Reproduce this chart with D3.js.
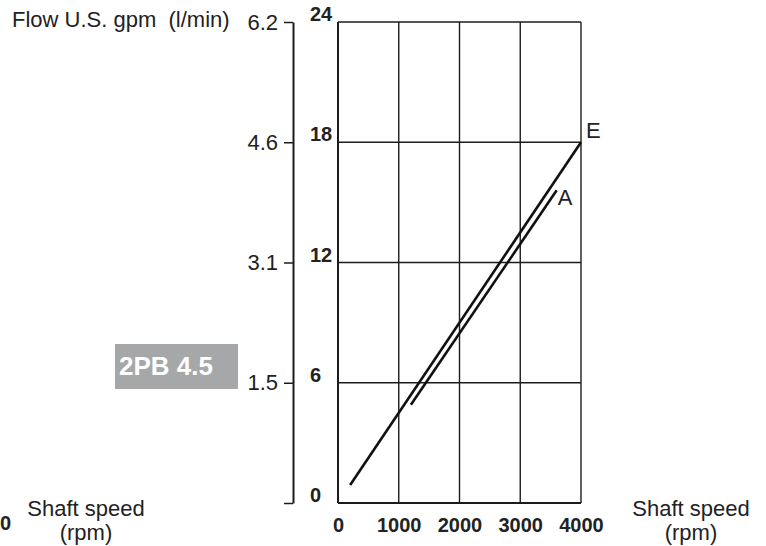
<!DOCTYPE html>
<html>
<head>
<meta charset="utf-8">
<script src="https://cdn.jsdelivr.net/npm/d3@7"></script>
<style>
  body { margin: 0; background: #fff; }
  svg { display: block; }
  text { font-family: "Liberation Sans", Arial, sans-serif; fill: #222; }
</style>
</head>
<body>
<svg width="766" height="546"></svg>
<script>
// chart values
const rpmTicks = [0, 1000, 2000, 3000, 4000];
const lpmTicks = [0, 6, 12, 18, 24];
const gpmLabels = ['', '1.5', '3.1', '4.6', '6.2'];
const curveE = [[200, 0.9], [4000, 18]];
const curveA = [[1200, 4.9], [3600, 15.6]];
const curveNames = ['E', 'A'];

const svg = d3.select('svg');
const ink = '#1c1c1c';

// plot box 338..581 x 22..503
const x = d3.scaleLinear().domain([0, 4000]).range([338, 581]);
const y = d3.scaleLinear().domain([0, 24]).range([503, 22]);

// grid
const grid = svg.append('g');
grid.selectAll('line.v')
  .data(rpmTicks)
  .enter()
  .append('line')
  .attr('x1', (d) => x(d))
  .attr('x2', (d) => x(d))
  .attr('y1', y(0))
  .attr('y2', y(24))
  .attr('stroke', ink)
  .attr('stroke-width', (d) => (d == 0 ? 2 : 1.4));
grid.selectAll('line.h')
  .data(lpmTicks)
  .enter()
  .append('line')
  .attr('x1', x(0))
  .attr('x2', x(4000))
  .attr('y1', (d) => y(d))
  .attr('y2', (d) => y(d))
  .attr('stroke', ink)
  .attr('stroke-width', (d) => (d == 0 ? 2 : 1.4));

// l/min labels beside the box
svg.append('g')
  .selectAll('text')
  .data(lpmTicks)
  .enter()
  .append('text')
  .attr('x', 310)
  .attr('y', (d) => y(d) - 1)
  .style('font-size', '20px')
  .style('font-weight', 'bold')
  .text((d) => d);

// gpm axis on the left
const gpmAxis = svg.append('g')
  .attr('transform', 'translate(293,0)')
  .call(
    d3.axisLeft(y)
      .tickValues(lpmTicks)
      .tickFormat((d, i) => gpmLabels[i])
      .tickSize(9)
      .tickSizeOuter(0)
      .tickPadding(6)
  );
gpmAxis.select('.domain').attr('stroke', ink).attr('stroke-width', 2);
gpmAxis.selectAll('.tick line').attr('stroke', ink).attr('stroke-width', 1.5);
gpmAxis.selectAll('.tick text')
  .style('font-size', '22px')
  .style('font-family', '"Liberation Sans", Arial, sans-serif')
  .attr('fill', ink);

// rpm axis labels
const rpmAxis = svg.append('g')
  .attr('transform', 'translate(0,503)')
  .call(
    d3.axisBottom(x)
      .tickValues(rpmTicks)
      .tickFormat(d3.format('d'))
      .tickSize(0)
      .tickPadding(15)
  );
rpmAxis.select('.domain').remove();
rpmAxis.selectAll('.tick text')
  .style('font-size', '20px')
  .style('font-weight', 'bold')
  .style('font-family', '"Liberation Sans", Arial, sans-serif')
  .attr('fill', ink);

// curves
const line = d3.line()
  .x((d) => x(d[0]))
  .y((d) => y(d[1]));
[curveE, curveA].forEach((c, i) => {
  svg.append('path')
    .attr('d', line(c))
    .attr('fill', 'none')
    .attr('stroke', '#111')
    .attr('stroke-width', 2.6);
  const end = c[c.length - 1];
  svg.append('text')
    .attr('x', x(end[0]) + (i == 0 ? 5 : 1))
    .attr('y', y(end[1]) + (i == 0 ? -4 : 15))
    .style('font-size', '22px')
    .text(curveNames[i]);
});

// titles
svg.append('text')
  .attr('x', 12)
  .attr('y', 27)
  .style('font-size', '22px')
  .attr('xml:space', 'preserve')
  .text('Flow U.S. gpm  (l/min)');

function shaftLabel(cx) {
  svg.append('text')
    .attr('x', cx)
    .attr('y', 516)
    .attr('text-anchor', 'middle')
    .style('font-size', '22px')
    .text('Shaft speed');
  svg.append('text')
    .attr('x', cx)
    .attr('y', 540)
    .attr('text-anchor', 'middle')
    .style('font-size', '22px')
    .text('(rpm)');
}
shaftLabel(691);
shaftLabel(86);

// tick left over from the neighbouring chart
svg.append('text')
  .attr('x', 0)
  .attr('y', 530)
  .style('font-size', '20px')
  .style('font-weight', 'bold')
  .text('0');

// model badge
svg.append('rect')
  .attr('x', 115)
  .attr('y', 344)
  .attr('width', 123)
  .attr('height', 45)
  .attr('fill', '#a6a7a9');
svg.append('text')
  .attr('x', 119)
  .attr('y', 375)
  .style('font-size', '26px')
  .style('font-weight', 'bold')
  .style('fill', '#fff')
  .text('2PB 4.5');
</script>
</body>
</html>
